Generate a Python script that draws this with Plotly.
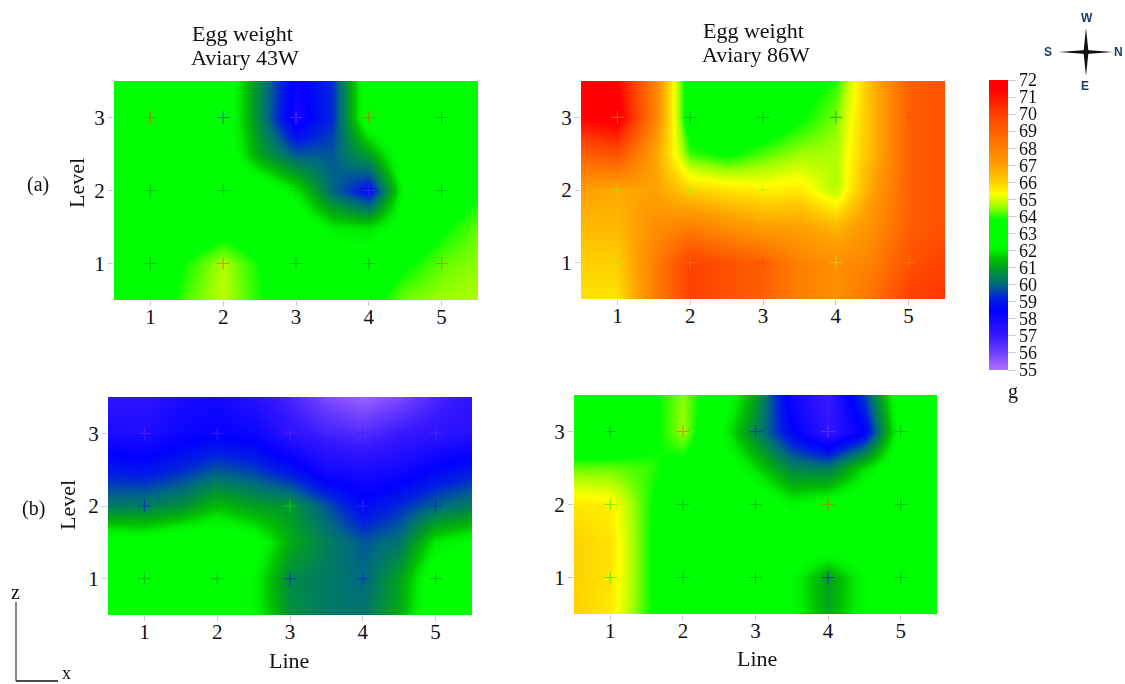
import plotly.graph_objects as go

line_x = [1, 2, 3, 4, 5]
level_y = [1, 2, 3]
grid_x = [0.5, 1, 1.5, 2, 2.5, 3, 3.5, 4, 4.5, 5, 5.5]
grid_y = [3.5, 3, 2.5, 2, 1.5, 1, 0.5]

aviary43_a = [
    [63, 63, 63, 63, 60.5, 58.3, 59.3, 63, 63, 63, 63],
    [63, 63, 63, 63, 60.5, 58, 59.3, 63, 63, 63, 63],
    [63, 63, 63, 63, 61, 59.8, 59.8, 61, 63, 63, 63],
    [63, 63, 63, 63, 63, 62, 60, 58.8, 62.5, 63, 63.7],
    [63, 63, 63, 63.4, 63, 63, 62, 61.8, 62.8, 63.7, 64.3],
    [63, 63, 63.9, 64.7, 63.8, 63, 63, 63, 63.7, 64.3, 64.5],
    [63, 63, 64.2, 64.8, 63.9, 63, 63, 63.5, 64.4, 64.6, 64.7],
]
aviary86_a = [
    [71.5, 71.5, 68, 63, 63, 63, 63.3, 64, 66.5, 69, 69.5],
    [71.5, 72, 68, 63, 63, 63, 63.7, 64.4, 66.5, 69, 69.5],
    [69, 69.5, 67, 64.1, 63.7, 64.2, 64.6, 64.7, 66.5, 69, 69.5],
    [67, 66.8, 67, 66, 65.7, 65.5, 65.6, 64.7, 67, 69, 69.5],
    [66.5, 66.5, 67.5, 68, 67.5, 67, 67, 66.5, 67.5, 69, 69.5],
    [66, 66, 68, 70, 69.5, 69, 68, 67.5, 68, 69.5, 70],
    [65.7, 65.7, 68, 70, 69.5, 69, 68, 67.5, 68.5, 70, 70.3],
]
aviary43_b = [
    [57.3, 57.3, 57.8, 58, 57.5, 56.7, 55.8, 55.3, 55.8, 56.7, 57.3],
    [57.8, 57.7, 58.2, 58.4, 58.2, 57.3, 56.8, 56.5, 57, 57.3, 57.5],
    [59, 58.9, 59.3, 59.8, 59.5, 58.9, 58, 57.8, 58, 58.6, 59],
    [60.3, 60.4, 60.7, 61.5, 61, 60.8, 59.8, 58.7, 59.3, 60, 60.4],
    [62.8, 62.6, 63, 63, 62.6, 61.2, 60.4, 59.8, 60.2, 62, 62.4],
    [63, 63, 63, 63, 62.2, 60.6, 60.3, 60, 61, 63, 63],
    [63, 63, 63, 63, 62.2, 60.7, 60.3, 60.2, 61.2, 63, 63],
]
aviary86_b = [
    [63, 63, 63.5, 64.5, 63, 61, 58, 57, 59.5, 63, 63],
    [62.5, 62.5, 63.4, 64.6, 62.4, 60.5, 58.6, 57.2, 58.5, 62.8, 63],
    [64.3, 64.3, 64.1, 63.4, 63, 61.8, 60.5, 60.3, 61.8, 63, 63],
    [65.7, 65.5, 64, 62.5, 63, 63, 62.2, 62.6, 63, 63, 63],
    [66, 65.7, 64, 62.5, 63, 63, 63, 63, 63, 63, 63],
    [66, 65.7, 64, 62.5, 63, 63, 62.3, 61, 62.3, 63, 63],
    [66, 65.6, 64, 62.5, 63, 63, 62.3, 61.1, 62.3, 63, 63],
]

# measured values at the sampling points (level 3, 2, 1)
points43_a = [[70, 57, 56, 70, 61], [61, 61, 61.5, 56.5, 61], [61, 70, 61, 61, 70]]
points86_a = [[68, 61, 61, 60.5, 69.5], [64.5, 64.5, 64.5, 65.5, 69], [64.5, 68, 70, 64.5, 68]]
points43_b = [[56.5, 56.5, 56.5, 57, 56.5], [58.5, 61, 62, 56.5, 58.5], [61, 61, 58.5, 59, 61]]
points86_b = [[61, 70, 57.5, 56, 61], [62, 61, 61, 70, 61], [62, 61, 61, 58.5, 61]]

colorbar_ticks = list(range(55, 73))

W, H = 1125, 684
VMIN, VMAX = 55, 72
stops = [(55, "#b070ff"), (56, "#7040ff"), (57, "#3818ff"), (58.5, "#0000ff"), (59.2, "#0020e0"),
         (60, "#006a80"), (61, "#00a020"), (61.5, "#00c000"), (62, "#00f000"), (62.4, "#00ff00"),
         (63.8, "#00ff00"), (64.6, "#a0ff00"), (65.3, "#ffff00"), (66, "#ffd000"), (67, "#ffa000"),
         (68, "#ff8000"), (69, "#ff6000"), (70, "#ff4000"), (71.5, "#ff0000"), (72, "#ff0000")]
colorscale = [[(v - VMIN) / (VMAX - VMIN), c] for v, c in stops]
FONT = "Liberation Serif"

panels = [
    dict(z=aviary43_a, pts=points43_a, box=(114, 478, 81, 300)),
    dict(z=aviary86_a, pts=points86_a, box=(581, 945, 81, 299)),
    dict(z=aviary43_b, pts=points43_b, box=(108, 472, 397, 615)),
    dict(z=aviary86_b, pts=points86_b, box=(574, 937, 395, 614)),
]

fig = go.Figure()
layout = dict(
    width=W, height=H, margin=dict(l=0, r=0, t=0, b=0), autosize=False,
    paper_bgcolor="white", plot_bgcolor="white", showlegend=False,
    font=dict(family=FONT, color="#111", size=20),
    coloraxis=dict(
        cmin=VMIN, cmax=VMAX, colorscale=colorscale,
        colorbar=dict(
            x=989 / W, xanchor="left", xpad=0, y=1 - 80 / H, yanchor="top", ypad=0,
            lenmode="pixels", len=290, thicknessmode="pixels", thickness=19,
            outlinewidth=0, tickmode="array", tickvals=colorbar_ticks,
            ticks="outside", ticklen=8, tickcolor="#cccccc", tickwidth=1,
            tickfont=dict(family=FONT, size=18, color="#111"),
        ),
    ),
)

for i, p in enumerate(panels, start=1):
    suffix = "" if i == 1 else str(i)
    x0, x1, y0, y1 = p["box"]
    fig.add_trace(go.Heatmap(
        x=grid_x, y=grid_y, z=p["z"], coloraxis="coloraxis", zsmooth="best",
        xaxis=f"x{suffix}", yaxis=f"y{suffix}", hoverinfo="skip"))
    xs = [x for _ in level_y for x in line_x]
    ys = [y for y in reversed(level_y) for _ in line_x]
    vals = [v for row in p["pts"] for v in row]
    fig.add_trace(go.Scatter(
        x=xs, y=ys, mode="markers", xaxis=f"x{suffix}", yaxis=f"y{suffix}", opacity=0.55,
        marker=dict(symbol="cross-thin", size=9, line=dict(
            width=1.2, color=vals, cmin=VMIN, cmax=VMAX, colorscale=colorscale))))
    layout[f"xaxis{suffix}"] = dict(
        domain=[x0 / W, x1 / W], anchor=f"y{suffix}", range=[0.5, 5.5],
        tickvals=line_x, ticks="outside", ticklen=5, tickcolor="#cccccc",
        ticklabelstandoff=-7, showgrid=False, zeroline=False, showline=False,
        tickfont=dict(size=21))
    layout[f"yaxis{suffix}"] = dict(
        domain=[1 - y1 / H, 1 - y0 / H], anchor=f"x{suffix}", range=[0.5, 3.5],
        tickvals=level_y, ticks="outside", ticklen=5, tickcolor="#cccccc",
        ticklabelstandoff=-1, showgrid=False, zeroline=False, showline=False,
        tickfont=dict(size=21))


def note(text, x, y, size=22, **kw):
    return dict(text=text, x=x / W, y=1 - y / H, xref="paper", yref="paper", showarrow=False,
                font=dict(family=kw.pop("family", FONT), size=size, color=kw.pop("color", "#111")),
                xanchor=kw.pop("xanchor", "center"), yanchor="middle", **kw)


NAVY = "#1f3a63"
layout["annotations"] = [
    note("Egg weight", 242, 33), note("Aviary 43W", 245, 57),
    note("Egg weight", 753, 31), note("Aviary 86W", 756, 55),
    note("Level", 76, 183, textangle=-90), note("Level", 67, 505, textangle=-90),
    note("Line", 289, 660), note("Line", 757, 658),
    note("(a)", 38, 184, size=20), note("(b)", 33, 508, size=20),
    note("g", 1013, 391, size=20),
    note("z", 15, 592, size=20), note("x", 66, 673, size=18),
    note("<b>W</b>", 1087, 18, size=12, family="Liberation Sans", color=NAVY),
    note("<b>S</b>", 1048, 52, size=12, family="Liberation Sans", color=NAVY),
    note("<b>N</b>", 1125, 52, size=12, family="Liberation Sans", color=NAVY, xanchor="right"),
    note("<b>E</b>", 1085, 86, size=12, family="Liberation Sans", color=NAVY),
]


def px_path(points):
    return "M " + " L ".join(f"{x / W:.5f},{1 - y / H:.5f}" for x, y in points) + " Z"


cx, cy = 1086, 52
layout["shapes"] = [
    dict(type="path", xref="paper", yref="paper", fillcolor="#111", line=dict(width=0),
         path=px_path(pts))
    for pts in [
        [(cx - 2.5, cy), (cx, cy - 24), (cx + 2.5, cy)],
        [(cx - 2.5, cy), (cx, cy + 24), (cx + 2.5, cy)],
        [(cx, cy - 2), (cx - 27, cy), (cx, cy + 2)],
        [(cx, cy - 2), (cx + 27, cy), (cx, cy + 2)],
    ]
] + [
    dict(type="line", xref="paper", yref="paper", x0=16 / W, x1=16 / W,
         y0=1 - 602 / H, y1=1 - 681 / H, line=dict(color="#111", width=1)),
    dict(type="line", xref="paper", yref="paper", x0=16 / W, x1=58 / W,
         y0=1 - 681 / H, y1=1 - 681 / H, line=dict(color="#111", width=1.5)),
]

fig.update_layout(**layout)
fig.write_html("out.html", config={"displayModeBar": False},
               post_script="document.body.style.margin='0';document.body.style.overflow='hidden';")
